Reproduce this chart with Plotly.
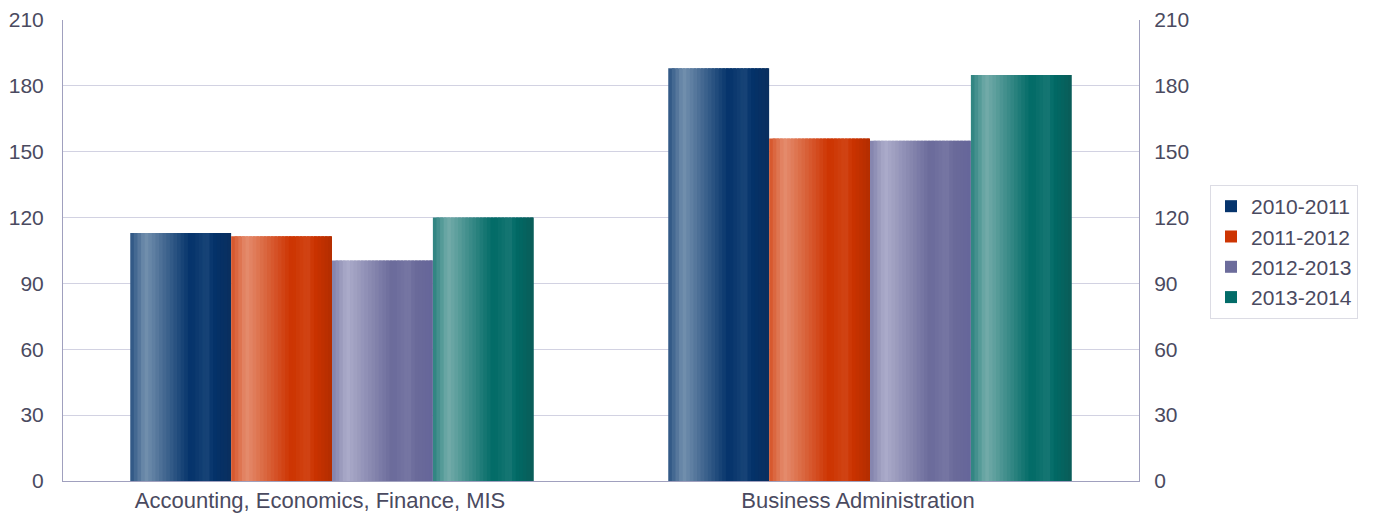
import plotly.graph_objects as go

categories = ["Accounting, Economics, Finance, MIS", "Business Administration"]
series_names = ["2010-2011", "2011-2012", "2012-2013", "2013-2014"]
values_2010 = [113, 188]
values_2011 = [111.5, 156]
values_2012 = [100.5, 155]
values_2013 = [120, 185]
y_ticks = [0, 30, 60, 90, 120, 150, 180, 210]

series_values = [values_2010, values_2011, values_2012, values_2013]
# (dark, light, edge-dark) colours of each series' gradient
palette = [
    ("#03326A", "#7390AE", "#0A2F5E"),
    ("#CC3300", "#E58C6E", "#B32E00"),
    ("#6A6A9A", "#ACACCA", "#66669A"),
    ("#006A66", "#74ACAA", "#0A5C58"),
]

def hex2rgb(h):
    h = h.lstrip("#")
    return [int(h[i:i + 2], 16) for i in (0, 2, 4)]

def mix(a, b, t):
    a, b = hex2rgb(a), hex2rgb(b)
    return "rgb(%d,%d,%d)" % tuple(round(a[k] + (b[k] - a[k]) * t) for k in range(3))

# gradient profile across a bar: (position, amount of light; negative = towards edge-dark)
profile = [(0.0, 0.35), (0.15, 1.0), (0.6, 0.0), (0.76, 0.2), (1.0, -0.6)]

def colour_at(pos, dark, light, edge):
    a = 0.0
    for (p0, a0), (p1, a1) in zip(profile[:-1], profile[1:]):
        if p0 <= pos <= p1:
            a = a0 + (a1 - a0) * (pos - p0) / (p1 - p0)
            break
    if a >= 0:
        return mix(dark, light, a)
    return mix(dark, edge, -a / 0.6)

bargap = 0.25
group_w = 1 - bargap
bar_w = group_w / len(series_names)
N = 28
slice_w = bar_w / N

fig = go.Figure()
for i, (name, vals) in enumerate(zip(series_names, series_values)):
    dark, light, edge = palette[i]
    start = -group_w / 2 + i * bar_w
    legend_slice = int(0.6 * N)
    for j in range(N):
        pos = (j + 0.5) / N
        col = colour_at(pos, dark, light, edge)
        show = j == legend_slice
        fig.add_trace(go.Bar(
            x=categories, y=vals, name=name,
            offset=start + j * slice_w,
            width=slice_w * (1.8 if j < N - 1 else 1.0),
            marker=dict(color=col, line=dict(width=0)),
            legendgroup=name, showlegend=show,
            hoverinfo="skip" if not show else None,
        ))

# invisible trace to bind the right axis
fig.add_trace(go.Scatter(x=categories, y=values_2010, yaxis="y2", mode="markers",
                         marker=dict(opacity=0), showlegend=False, hoverinfo="skip"))

font_col = "#4A4A60"
fs = 21
fig.update_layout(
    width=1386, height=514,
    barmode="overlay",
    paper_bgcolor="white", plot_bgcolor="white",
    margin=dict(l=63, r=247, t=20, b=33, autoexpand=False),
    font=dict(family="Liberation Sans, Arial, sans-serif", size=fs, color=font_col),
    xaxis=dict(showgrid=False, showline=True, linecolor="#A0A0BE", linewidth=1,
               ticks="", tickfont=dict(size=22, color=font_col), automargin=False,
               ticklabelstandoff=0, ticklabelshift=-12),
    yaxis=dict(range=[0, 210], tickvals=y_ticks, showgrid=True, gridcolor="#D2D2E2",
               gridwidth=1, showline=True, linecolor="#A0A0BE", linewidth=1,
               zeroline=False, ticks="", tickfont=dict(size=fs, color=font_col),
               ticklabelstandoff=14, automargin=False),
    yaxis2=dict(range=[0, 210], tickvals=y_ticks, overlaying="y", side="right",
                showgrid=False, showline=True, linecolor="#A0A0BE", linewidth=1,
                zeroline=False, ticks="", tickfont=dict(size=fs, color=font_col),
                ticklabelstandoff=10, automargin=False),
    legend=dict(x=1.066, y=0.642, xanchor="left", yanchor="top",
                bordercolor="#DCDCE4", borderwidth=1, bgcolor="white",
                font=dict(size=21, color=font_col), tracegroupgap=0),
    showlegend=True,
)

fig.write_html("out.html", config={"displayModeBar": False},
               post_script="document.body.style.margin='0';")
